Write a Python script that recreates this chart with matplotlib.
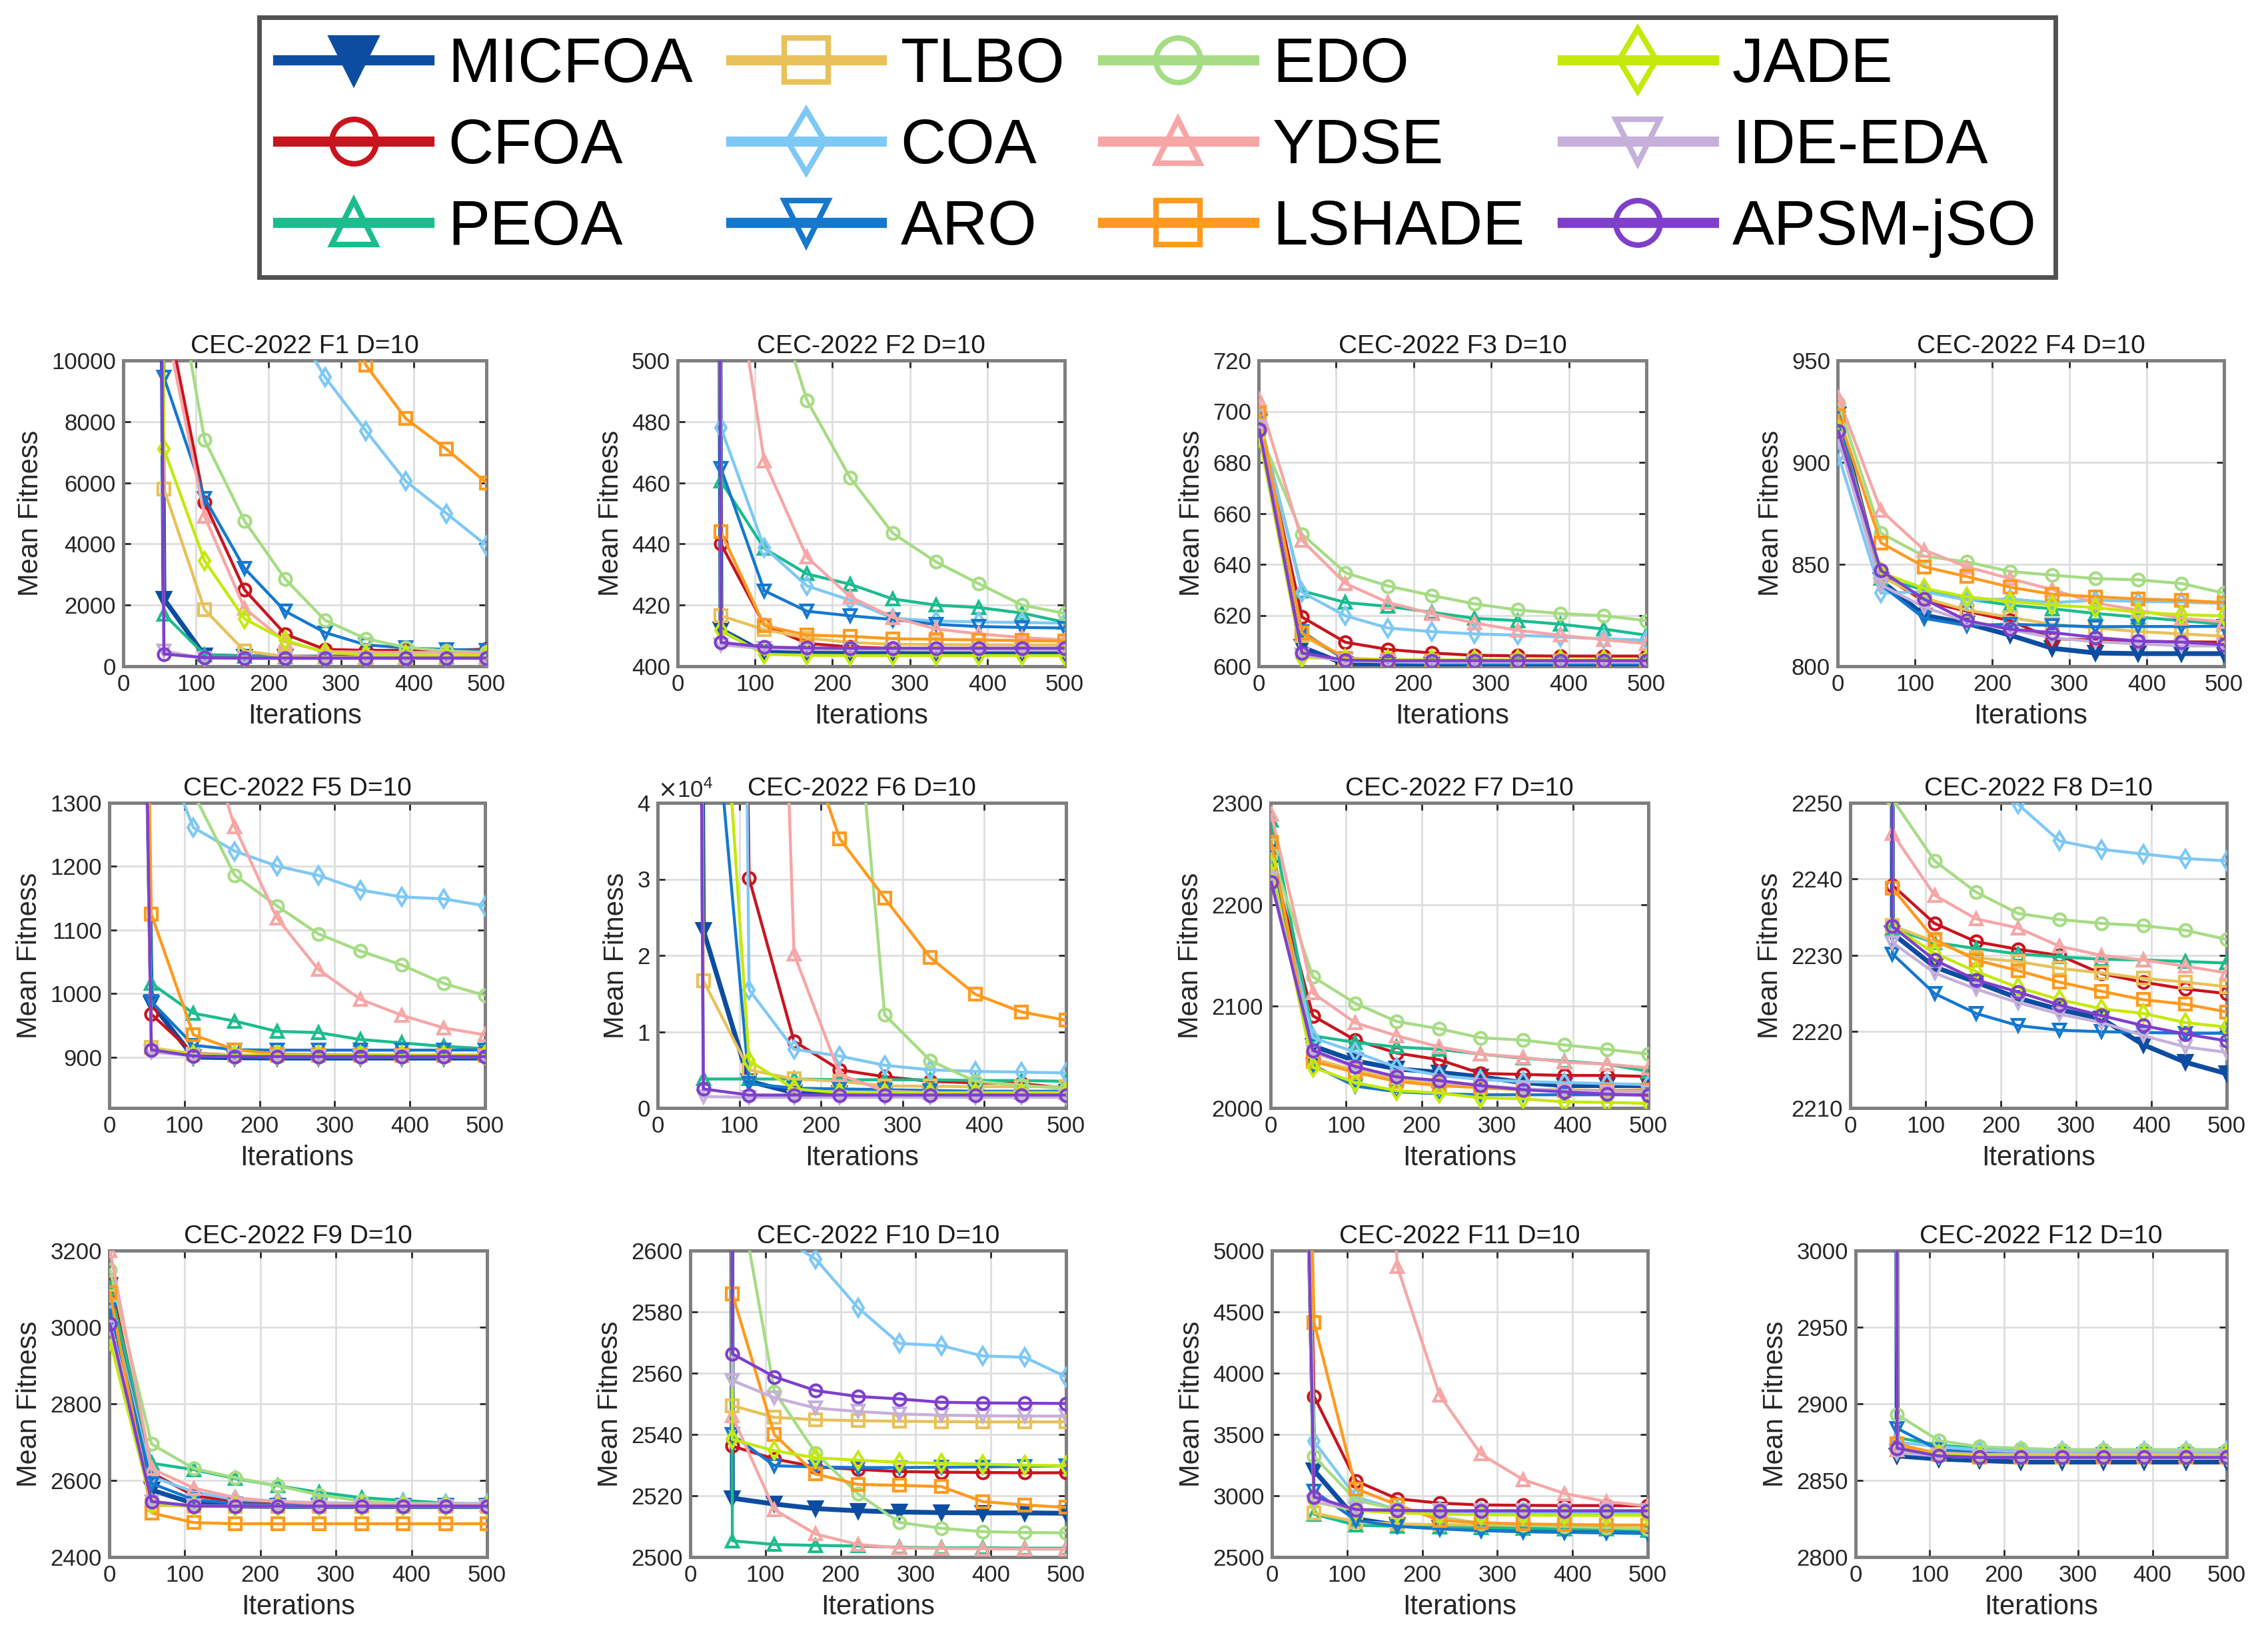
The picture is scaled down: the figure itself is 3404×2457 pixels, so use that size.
import matplotlib
matplotlib.use('Agg')
import matplotlib.pyplot as plt
from matplotlib.lines import Line2D
from matplotlib.ticker import ScalarFormatter

plt.rcParams['font.family'] = ['Liberation Sans', 'DejaVu Sans']

# ---------------- data ----------------
ITERS = [1, 56, 112, 167, 223, 278, 334, 389, 445, 500]

ALGS = ['MICFOA', 'CFOA', 'PEOA', 'TLBO', 'COA', 'ARO',
        'EDO', 'YDSE', 'LSHADE', 'JADE', 'IDE-EDA', 'APSM-jSO']

COLORS = ['#0D4DA1', '#C8141E', '#1BBC8E', '#E8C15A', '#7EC8F5', '#1478CF',
          '#A6DC84', '#F7A6A6', '#FF9A1E', '#C5E90B', '#C5B0DA', '#7F3FCC']
MARKERS = ['v', 'o', '^', 's', 'd', 'v', 'o', '^', 's', 'd', 'v', 'o']

TITLES = ['CEC-2022 F%d D=10' % i for i in range(1, 13)]

F1 = [
    [2e5, 2200, 350, 310, 300, 300, 300, 300, 300, 300],
    [2e5, 12000, 5350, 2500, 1050, 550, 520, 520, 520, 560],
    [2e5, 1700, 380, 320, 310, 300, 300, 300, 300, 300],
    [2e5, 5800, 1850, 500, 320, 300, 290, 290, 290, 290],
    [2e5, 25000, 18000, 14000, 11600, 9450, 7700, 6050, 5000, 3950],
    [2e5, 9450, 5500, 3200, 1800, 1100, 700, 600, 550, 520],
    [2e5, 15000, 7400, 4750, 2850, 1500, 900, 620, 500, 450],
    [2e5, 11500, 4900, 1900, 800, 480, 460, 450, 450, 440],
    [2e5, 35000, 28000, 22000, 17000, 13000, 9850, 8100, 7100, 6000],
    [2e5, 7100, 3450, 1550, 850, 450, 380, 360, 350, 350],
    [2e5, 500, 260, 250, 250, 250, 250, 250, 250, 250],
    [2e5, 400, 280, 270, 270, 270, 270, 270, 270, 270],
]
F2 = [
    [5000, 412, 404.5, 404.3, 404.3, 404.3, 404.3, 404.2, 404.2, 404.2],
    [5000, 440, 413.5, 407.5, 406.3, 405.8, 405.6, 405.6, 405.5, 405.5],
    [5000, 460.5, 438.5, 430.2, 426.8, 422, 420, 419.2, 417.4, 414.4],
    [5000, 416.5, 412, 409.2, 407.8, 407.2, 407.1, 407, 407, 407],
    [5000, 478, 438.8, 426.3, 421.6, 415.7, 414.8, 414.5, 414.3, 414.1],
    [5000, 464.7, 424.7, 418, 416.5, 415.3, 413.7, 413, 412.7, 412.5],
    [5000, 600, 532, 487, 461.6, 443.5, 434.1, 427, 420, 417.3],
    [5000, 559, 467, 435.7, 422.7, 416, 412.2, 410.6, 409.4, 408.6],
    [5000, 443.9, 413.3, 410.2, 409.8, 409, 408.8, 408.6, 408.4, 408.2],
    [5000, 411.8, 403.9, 403.6, 403.5, 403.5, 403.5, 403.5, 403.5, 403.5],
    [5000, 407, 405.8, 405.5, 405.4, 405.4, 405.3, 405.3, 405.3, 405.3],
    [5000, 407.8, 406.3, 406, 405.9, 405.9, 405.9, 405.9, 405.9, 405.9],
]
F3 = [
    [696, 607.5, 600.8, 600.5, 600.4, 600.3, 600.3, 600.3, 600.3, 600.3],
    [696, 619.3, 609.4, 606.6, 605.2, 604.3, 604.1, 604, 604, 604],
    [697, 629.6, 625, 623.5, 621.2, 618.8, 617.9, 616.5, 614.6, 612.2],
    [698, 612, 603, 602.2, 602, 602, 602, 602, 602, 602],
    [697, 629, 619.8, 615, 613.6, 612.7, 612.2, 611.5, 610.8, 610.2],
    [697, 613.6, 602.5, 601.5, 601.2, 601, 601, 601, 601, 601],
    [692, 651.8, 636.7, 631.5, 627.8, 624.5, 622.1, 620.7, 619.8, 617.9],
    [704.5, 649.4, 632.5, 625, 620.7, 617, 614.1, 612.2, 610.4, 608.9],
    [699.3, 613, 603.2, 602.5, 602.2, 602.1, 602, 602, 602, 602],
    [690, 603.5, 602.8, 602.6, 602.5, 602.5, 602.5, 602.5, 602.5, 602.5],
    [694, 604.5, 602, 601.8, 601.6, 601.6, 601.6, 601.6, 601.6, 601.6],
    [692.7, 605.2, 602.4, 602.2, 602.2, 602.2, 602.2, 602.2, 602.2, 602.2],
]
F4 = [
    [923.5, 842, 825, 821, 815.3, 808.8, 806.5, 806.2, 806.2, 806.2],
    [920, 845, 832, 827, 822.4, 813.5, 812.9, 812.2, 812, 811.8],
    [918, 843, 837.6, 833, 830, 828.2, 825.9, 824.1, 822.4, 820.5],
    [921, 844, 833.5, 827.6, 824, 820.6, 818.8, 817, 815.9, 814.7],
    [903.5, 835.9, 836.5, 832.5, 833, 831.2, 832.4, 831.8, 831.5, 830.8],
    [921.5, 840, 823.5, 820, 820.6, 820, 819.4, 819.5, 819.5, 819.6],
    [929, 865.3, 854, 851.2, 846.5, 844.7, 843, 842.4, 840.6, 835.9],
    [931.8, 876.5, 857, 848.8, 843, 837.6, 831, 827.5, 823.5, 821.8],
    [923, 860.6, 848.8, 844, 838.8, 835.3, 834.1, 833, 832.4, 831.2],
    [916, 846, 838.2, 834.1, 831.8, 830, 828.8, 826.5, 825.3, 824.7],
    [911.8, 840, 829, 822, 818, 814, 812, 811, 810, 810],
    [915.3, 847, 832.9, 822.4, 818.2, 816.5, 814.1, 812.4, 811.8, 810.6],
]
F5 = [
    [5000, 985, 900, 899, 898.5, 898.5, 898.5, 898.5, 898.5, 898.5],
    [5000, 967.6, 906, 903, 902, 902, 901.5, 901.5, 901.5, 901.5],
    [5000, 1016, 969, 956.7, 940.5, 938.7, 927.8, 922.4, 917, 913.4],
    [5000, 915, 905, 903, 903, 903, 903, 903, 903, 903],
    [5000, 1427, 1261, 1224, 1200.6, 1186, 1163, 1152, 1149, 1138],
    [5000, 987.4, 918.8, 911.6, 911, 911, 911, 911, 911, 911.5],
    [5000, 1500, 1315, 1186, 1138, 1094, 1067, 1045, 1016, 997],
    [5000, 1700, 1472, 1262, 1119, 1038, 991, 966, 946, 935],
    [5000, 1124.7, 935, 911.6, 905, 904, 903.5, 903, 903, 903],
    [5000, 913.4, 904, 903, 903, 902.5, 902.5, 902.5, 902.5, 902.5],
    [5000, 908, 902, 901, 900.5, 900.5, 900.5, 900.5, 900.5, 900.5],
    [5000, 911.6, 901.8, 901, 901, 901, 901, 901, 901, 901],
]
F6 = [
    [1e6, 23300, 3500, 2000, 1900, 1850, 1800, 1800, 1800, 1800],
    [1e6, 500000, 30100, 8760, 5000, 4100, 3500, 3300, 3200, 2600],
    [1e6, 3800, 3800, 3800, 3700, 3700, 3700, 3600, 3600, 3500],
    [1e6, 16700, 5000, 3800, 3500, 2900, 2850, 2800, 2800, 2800],
    [1e6, 600000, 15500, 7700, 6800, 5600, 5000, 4800, 4700, 4600],
    [1e6, 70000, 3200, 2600, 2500, 2400, 2300, 2200, 2200, 2200],
    [1e6, 160000, 130000, 100000, 78400, 12200, 6200, 3500, 3000, 2500],
    [1e6, 400000, 200000, 20200, 4400, 2200, 2000, 2000, 2000, 2000],
    [1e6, 120000, 80000, 52700, 35300, 27500, 19700, 14900, 12600, 11500],
    [1e6, 96000, 6200, 2500, 2000, 2000, 2000, 2000, 2000, 2000],
    [1e6, 1500, 1400, 1400, 1400, 1400, 1400, 1400, 1400, 1400],
    [1e6, 2500, 1700, 1700, 1700, 1700, 1700, 1700, 1700, 1700],
]
F7 = [
    [2251, 2061, 2046.4, 2038.5, 2035, 2030.6, 2025, 2022, 2022, 2022],
    [2245.6, 2090.6, 2066.8, 2054, 2047.5, 2034, 2033, 2032, 2032, 2031],
    [2283, 2071, 2064.5, 2060, 2057.7, 2053, 2049, 2046, 2043, 2036],
    [2258, 2048.7, 2037, 2028, 2024, 2020, 2018, 2018, 2017, 2017],
    [2245, 2069, 2055, 2040, 2032, 2028, 2026, 2025, 2024, 2023],
    [2252, 2042, 2021.5, 2016, 2014, 2013, 2013, 2013, 2013, 2013],
    [2250, 2129, 2103, 2085, 2078, 2069, 2066.8, 2062, 2057.7, 2053],
    [2288.7, 2113, 2083.8, 2071, 2060, 2053, 2049.8, 2045, 2043, 2039.6],
    [2261.5, 2046, 2035, 2026, 2022, 2020, 2018, 2017, 2017, 2018],
    [2239, 2040, 2025, 2017, 2014.7, 2010, 2009, 2006, 2005.5, 2004.5],
    [2226, 2055, 2040, 2031, 2026, 2022, 2019, 2017, 2016, 2016],
    [2221.9, 2056.6, 2040.8, 2030.6, 2027, 2022, 2018, 2015.8, 2013.6, 2012.5],
]
F8 = [
    [1e4, 2232.9, 2228.5, 2226.5, 2224.4, 2222.9, 2221.7, 2218.3, 2216, 2214.5],
    [1e4, 2239.2, 2234.2, 2231.8, 2230.8, 2230, 2227.6, 2226.5, 2225.6, 2225],
    [1e4, 2233.5, 2231.7, 2230.9, 2230.2, 2229.8, 2229.5, 2229.4, 2229.2, 2229],
    [1e4, 2233.9, 2231.8, 2229.7, 2229.2, 2228.3, 2227.7, 2227, 2226.5, 2225.9],
    [1e4, 2270, 2262, 2256, 2249.8, 2245, 2243.9, 2243.3, 2242.7, 2242.4],
    [1e4, 2230.2, 2225, 2222.4, 2220.8, 2220.2, 2220, 2219.9, 2219.8, 2219.8],
    [1e4, 2250.5, 2242.4, 2238.3, 2235.5, 2234.7, 2234.2, 2233.9, 2233.3, 2232.1],
    [1e4, 2246, 2237.9, 2234.8, 2233.6, 2231.2, 2230, 2229.4, 2228.6, 2227.7],
    [1e4, 2238.8, 2232.1, 2229.4, 2228, 2226.5, 2225.3, 2224.2, 2223.6, 2222.6],
    [1e4, 2233.8, 2230.3, 2227.9, 2225.8, 2224.2, 2223, 2222.4, 2221.2, 2220.6],
    [1e4, 2231.7, 2227.7, 2225.6, 2223.8, 2222.3, 2221.2, 2219.5, 2218, 2217.3],
    [1e4, 2233.8, 2229.4, 2226.8, 2225.2, 2223.5, 2222.1, 2220.8, 2219.7, 2218.8],
]
F9 = [
    [3110, 2575, 2540, 2533, 2532, 2532, 2532, 2532, 2532, 2532],
    [3124, 2620, 2560, 2545, 2538, 2535, 2535, 2535, 2535, 2535],
    [3100, 2645, 2628, 2605, 2586, 2569, 2555, 2548, 2541, 2537],
    [3080, 2535, 2533, 2532, 2532, 2532, 2532, 2532, 2532, 2532],
    [3060, 2610, 2570, 2550, 2545, 2542, 2540, 2540, 2540, 2540],
    [3045, 2592, 2550, 2540, 2536, 2535, 2535, 2535, 2535, 2535],
    [3150, 2695, 2631, 2607, 2586, 2562, 2546, 2540, 2538, 2535],
    [3200, 2631, 2580, 2555, 2545, 2540, 2538, 2538, 2538, 2538],
    [3090, 2515, 2490, 2487, 2487, 2487, 2487, 2487, 2487, 2487],
    [2965, 2540, 2533, 2533, 2533, 2533, 2533, 2533, 2533, 2533],
    [3000, 2545, 2534, 2533, 2533, 2533, 2533, 2533, 2533, 2533],
    [3008, 2545, 2533, 2533, 2533, 2533, 2533, 2533, 2533, 2533],
]
F10 = [
    [1e4, 2519.2, 2517.3, 2515.8, 2515.1, 2514.7, 2514.5, 2514.4, 2514.4, 2514.3],
    [1e4, 2536.2, 2532, 2529.4, 2528.6, 2527.9, 2527.7, 2527.6, 2527.5, 2527.5],
    [1e4, 2505.3, 2504.1, 2503.8, 2503.6, 2503.2, 2503, 2503, 2502.9, 2502.9],
    [1e4, 2549.4, 2545.6, 2544.8, 2544.5, 2544.3, 2544.2, 2544.1, 2544.1, 2544.1],
    [1e4, 2620, 2605.6, 2597.2, 2581.4, 2569.7, 2569, 2565.6, 2565.2, 2558.8],
    [1e4, 2539.9, 2529.8, 2529.4, 2529.2, 2529.2, 2529.3, 2529.4, 2529.6, 2529.8],
    [1e4, 2632, 2554, 2533.9, 2520.7, 2511.3, 2509.4, 2508.3, 2508, 2507.9],
    [1e4, 2546, 2515.4, 2507.5, 2504.1, 2503, 2502.8, 2502.7, 2502.6, 2502.6],
    [1e4, 2585.9, 2539.9, 2527.1, 2523.7, 2523.4, 2523, 2518.1, 2517, 2516.2],
    [1e4, 2538.4, 2534.7, 2532.4, 2531.6, 2530.9, 2530.6, 2530.3, 2530, 2529.8],
    [1e4, 2557.6, 2552, 2548.6, 2547.5, 2546.7, 2546.3, 2546.1, 2546, 2546],
    [1e4, 2566.3, 2558.8, 2554.3, 2552.4, 2551.6, 2550.5, 2550.3, 2550.2, 2550.1],
]
F11 = [
    [2e4, 3207, 2811, 2760, 2740, 2725, 2715, 2710, 2705, 2700],
    [2e4, 3811, 3120, 2975, 2940, 2925, 2922, 2920, 2920, 2918],
    [2e4, 2850, 2760, 2750, 2745, 2740, 2735, 2730, 2728, 2720],
    [2e4, 2858, 2790, 2770, 2765, 2762, 2760, 2760, 2760, 2760],
    [2e4, 3443, 2990, 2887, 2870, 2865, 2862, 2860, 2860, 2860],
    [2e4, 3038, 2800, 2750, 2730, 2715, 2708, 2703, 2700, 2695],
    [2e4, 3321, 2962, 2890, 2830, 2774, 2760, 2750, 2740, 2730],
    [2e4, 15000, 10000, 4868, 3821, 3340, 3132, 3019, 2953, 2915],
    [2e4, 4415, 3057, 2925, 2800, 2780, 2770, 2765, 2762, 2760],
    [2e4, 2950, 2880, 2860, 2850, 2845, 2842, 2840, 2840, 2840],
    [2e4, 2950, 2890, 2882, 2880, 2880, 2880, 2880, 2880, 2880],
    [2e4, 2990, 2887, 2880, 2877, 2877, 2877, 2877, 2877, 2877],
]
F12 = [
    [2e4, 2866, 2864, 2863, 2862, 2862, 2862, 2862, 2862, 2862],
    [2e4, 2872, 2868, 2866, 2866, 2866, 2866, 2866, 2866, 2866],
    [2e4, 2878, 2873, 2871, 2870, 2870, 2870, 2870, 2870, 2870],
    [2e4, 2873, 2868, 2866, 2866, 2866, 2866, 2866, 2866, 2866],
    [2e4, 2875, 2872, 2870, 2869, 2869, 2869, 2869, 2869, 2869],
    [2e4, 2884, 2870, 2868, 2867, 2867, 2867, 2867, 2867, 2867],
    [2e4, 2893, 2876, 2872, 2871, 2870, 2870, 2870, 2870, 2870],
    [2e4, 2870, 2868, 2867, 2867, 2867, 2867, 2867, 2867, 2867],
    [2e4, 2874, 2867, 2865, 2865, 2865, 2865, 2865, 2865, 2865],
    [2e4, 2870, 2867, 2866, 2866, 2866, 2866, 2866, 2866, 2866],
    [2e4, 2868, 2866, 2865, 2865, 2865, 2865, 2865, 2865, 2865],
    [2e4, 2871, 2866, 2865, 2865, 2865, 2865, 2865, 2865, 2865],
]

DATA = [F1, F2, F3, F4, F5, F6, F7, F8, F9, F10, F11, F12]

YLIMS = [(0, 10000), (400, 500), (600, 720), (800, 950),
         (820, 1300), (0, 40000), (2000, 2300), (2210, 2250),
         (2400, 3200), (2500, 2600), (2500, 5000), (2800, 3000)]
YSTEPS = [2000, 20, 20, 50, 100, 10000, 100, 10, 200, 20, 500, 50]
YTICK_START = [0, 400, 600, 800, 900, 0, 2000, 2210, 2400, 2500, 2500, 2800]

# ---------------- layout (pixel boxes: left, right, top, bottom) -------------
W, H = 3404, 2457
AX_PX = [
    (185, 730, 541, 1000), (1017, 1598, 541, 1000), (1889, 2471, 541, 1000), (2758, 3338, 541, 1000),
    (164, 728, 1205, 1663), (987, 1600, 1205, 1663), (1907, 2474, 1205, 1663), (2777, 3342, 1205, 1663),
    (164, 731, 1877, 2337), (1036, 1600, 1877, 2337), (1909, 2473, 1877, 2337), (2785, 3342, 1877, 2337),
]

fig = plt.figure(figsize=(W / 200, H / 200), dpi=200)
fig.patch.set_facecolor('white')

for k in range(12):
    l, r, t, b = AX_PX[k]
    ax = fig.add_axes([l / W, 1 - b / H, (r - l) / W, (b - t) / H])
    for j, alg in enumerate(ALGS):
        c = COLORS[j]
        ax.plot(ITERS, DATA[k][j], color=c, marker=MARKERS[j],
                markersize=7 if j == 0 else 6.5,
                markerfacecolor=c if j == 0 else 'none',
                markeredgecolor=c, markeredgewidth=1.5,
                linewidth=2.6 if j == 0 else 1.6, zorder=3)
    lo, hi = YLIMS[k]
    ax.set_xlim(0, 500)
    ax.set_ylim(lo, hi)
    ax.set_xticks(list(range(0, 501, 100)))
    yt = []
    v = YTICK_START[k]
    while v <= hi + 1e-9:
        yt.append(v)
        v += YSTEPS[k]
    ax.set_yticks(yt)
    if k == 5:
        fmt = ScalarFormatter(useMathText=True)
        fmt.set_powerlimits((0, 0))
        ax.yaxis.set_major_formatter(fmt)
        ax.yaxis.get_offset_text().set_fontsize(12.5)
        ax.yaxis.get_offset_text().set_color('#555555')
    ax.grid(True, color='#dedede', linewidth=1.0)
    ax.set_axisbelow(True)
    ax.tick_params(direction='in', length=4, width=1.0, labelsize=12.5,
                   colors='#262626', top=True, right=True, pad=4)
    for s in ax.spines.values():
        s.set_color('#7f7f7f')
        s.set_linewidth(1.8)
    ax.set_title(TITLES[k], fontsize=14, pad=4, color='#1a1a1a')
    ax.set_xlabel('Iterations', fontsize=15, color='#262626', labelpad=4)
    ax.set_ylabel('Mean Fitness', fontsize=15, color='#262626', labelpad=4)

handles = []
for j, alg in enumerate(ALGS):
    c = COLORS[j]
    handles.append(Line2D([], [], color=c, marker=MARKERS[j], markersize=24,
                          markerfacecolor=c if j == 0 else 'none',
                          markeredgecolor=c, markeredgewidth=3.0, linewidth=5.5))

leg = fig.legend(handles, ALGS, ncol=4, loc='upper center',
                 bbox_to_anchor=(0.5103, 0.9894), fontsize=34, frameon=True,
                 fancybox=False, edgecolor='#262626', handlelength=2.4,
                 handletextpad=0.3, columnspacing=0.6, labelspacing=0.35,
                 borderpad=0.3, borderaxespad=0)
leg.get_frame().set_linewidth(2.5)

fig.savefig('out.png', dpi=200, facecolor='white')
